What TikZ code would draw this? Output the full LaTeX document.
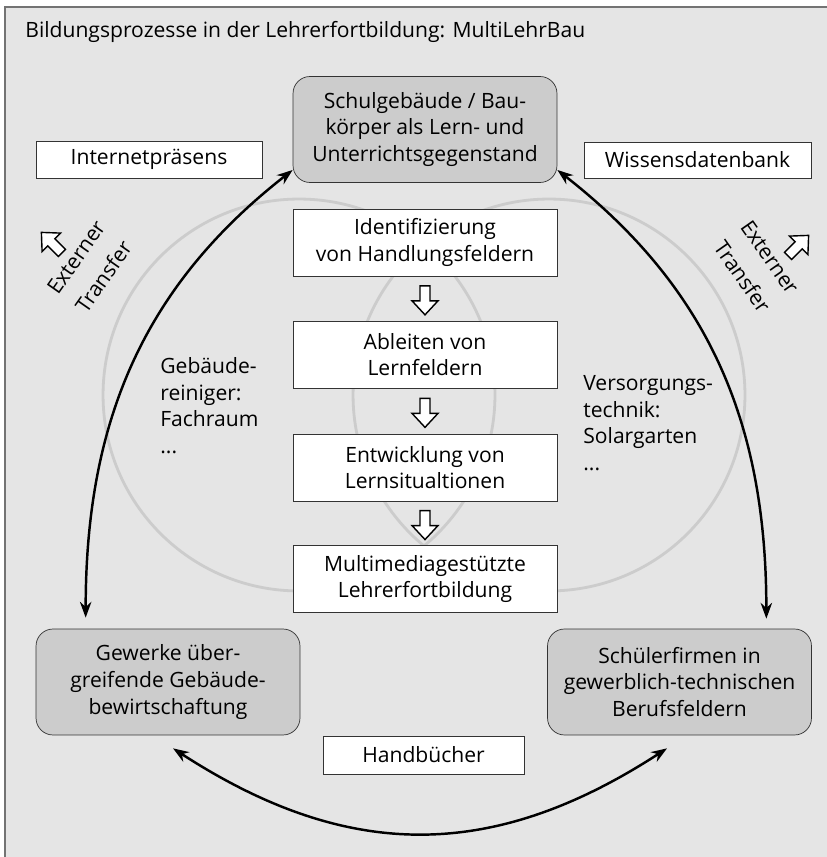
\documentclass[tikz,border=0pt]{standalone}
\usepackage{fontspec}
\setmainfont{Open Sans}
\usetikzlibrary{arrows.meta,calc}

\definecolor{bggray}{gray}{0.9}
\definecolor{boxgray}{gray}{0.8}
\definecolor{ringgray}{gray}{0.8}
\definecolor{framegray}{gray}{0.45}
\newcommand\diafont{\fontsize{12}{15.2}\selectfont}

\tikzset{
  plainbox/.style={draw=black!80, fill=white, align=center, inner sep=0pt},
  stepbox/.style={plainbox, minimum width=5.28cm, minimum height=1.34cm},
  roundbox/.style={draw=black!80, fill=boxgray, rounded corners=0.34cm, align=center,
    inner sep=0pt, minimum width=5.28cm, minimum height=2.12cm},
  sidetext/.style={align=left, inner sep=0pt, anchor=north west},
  conn/.style={line width=1.4pt, {Stealth[length=9pt,width=6.5pt]}-{Stealth[length=9pt,width=6.5pt]}},
  ring/.style={draw=ringgray, line width=1.6pt},
  hollowarr/.pic={\draw[fill=white, line width=0.8pt] (-5,-14) -- (5,-14) -- (5,1) -- (13,1)
    -- (0,15) -- (-13,1) -- (-5,1) -- cycle;}
}

\begin{document}
\begin{tikzpicture}[x=0.02cm, y=0.02cm, font=\diafont]
  \useasboundingbox (0,0) rectangle (826,-857);
  \draw[framegray, fill=bggray, line width=0.8pt] (5,-7) rectangle (850,-880);

  % the two fields
  \draw[ring] (299,-395) circle[radius=3.92cm];
  \draw[ring] (549,-395) circle[radius=3.92cm];

  \node[anchor=base west, inner sep=0pt] (titel) at (25,-38)
    {Bildungsprozesse in der Lehrerfortbildung: MultiLehrBau};

  % corner boxes
  \node[roundbox] (schule) at (425,-129.5)
    {Schulgebäude / Bau-\\körper als Lern- und\\Unterrichtsgegenstand};
  \node[roundbox] (gewerke) at (168,-682)
    {Gewerke über-\\greifende Gebäude-\\bewirtschaftung};
  \node[roundbox] (schueler) at (679.5,-682)
    {Schülerfirmen in\\gewerblich-technischen\\Berufsfeldern};

  \node[plainbox, minimum width=4.52cm, minimum height=0.74cm] (internet) at (149,-159.5) {Internetpräsens};
  \node[plainbox, minimum width=4.54cm, minimum height=0.72cm] (wissen) at (697.5,-160) {Wissensdatenbank};
  \node[plainbox, minimum width=4.02cm, minimum height=0.76cm] (handbuch) at (423.5,-755) {Handbücher};

  % steps in the middle
  \node[stepbox] (ident) at (425,-242.5) {Identifizierung\\von Handlungsfeldern};
  \node[stepbox] (ableiten) at (425,-354.5) {Ableiten von\\Lernfeldern};
  \node[stepbox] (entwickl) at (425,-467.5) {Entwicklung von\\Lernsitualtionen};
  \node[stepbox] (multi) at (425,-579) {Multimediagestützte\\Lehrerfortbildung};

  \pic[rotate=180] at ($(ident.south)!0.53!(ableiten.north)$) {hollowarr};
  \pic[rotate=180] at ($(ableiten.south)!0.53!(entwickl.north)$) {hollowarr};
  \pic[rotate=180] at ($(entwickl.south)!0.53!(multi.north)$) {hollowarr};

  \node[sidetext] (reiniger) at (160,-357) {Gebäude-\\reiniger:\\Fachraum\\...};
  \node[sidetext] (versorgung) at (583,-375) {Versorgungs-\\technik:\\Solargarten\\...};

  % external transfer
  \node[rotate=55, align=center] (extl) at (90,-267) {Externer\\[4pt]Transfer};
  \node[rotate=-55, align=center] (extr) at (756,-267) {Externer\\[4pt]Transfer};
  \pic[rotate=45] at (52,-243) {hollowarr};
  \pic[rotate=-45] at (798,-246) {hollowarr};

  % connectors
  \coordinate (gl) at ([xshift=1cm,yshift=0.22cm]gewerke.north west);
  \coordinate (gr) at ([xshift=-0.91cm,yshift=0.2cm]schueler.north east);
  \coordinate (bl) at ([xshift=0.1cm,yshift=-0.26cm]gewerke.south);
  \coordinate (br) at ([xshift=-0.25cm,yshift=-0.26cm]schueler.south);
  \draw[conn] (schule.197) to[out=218,in=90] (gl);
  \draw[conn] (schule.-17) to[out=-38,in=90] (gr);
  \draw[conn] (bl) to[out=-33,in=213,looseness=1.08] (br);
\end{tikzpicture}
\end{document}
